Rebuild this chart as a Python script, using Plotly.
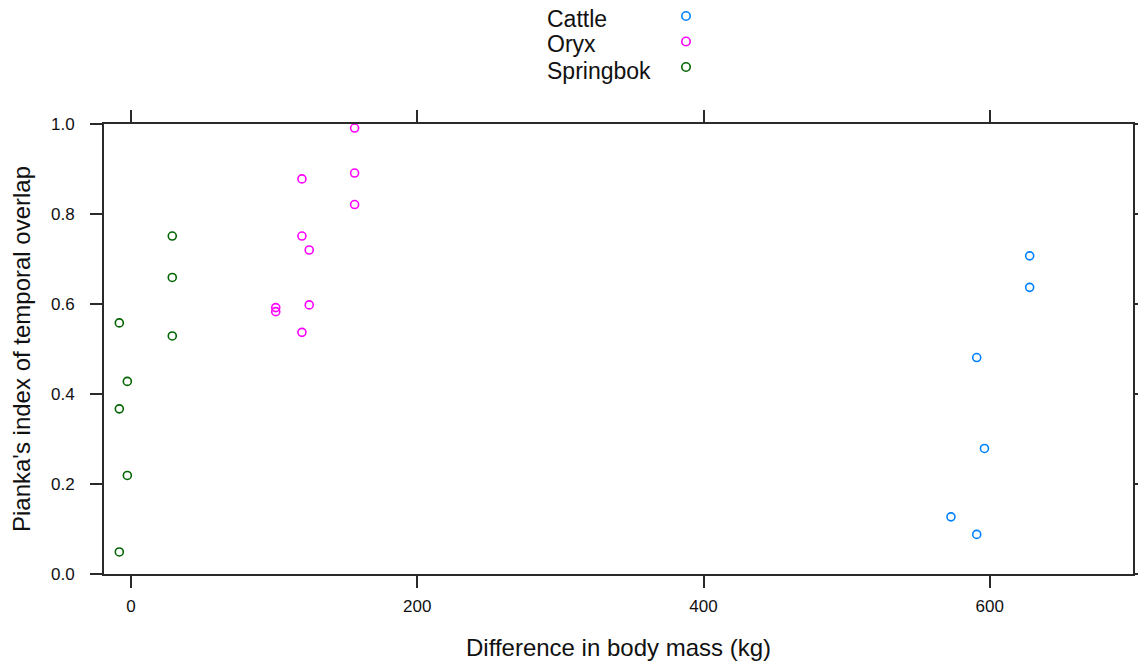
import plotly.graph_objects as go

# ---- data ----
species = ["Cattle", "Oryx", "Springbok"]
colors = ["#0080ff", "#ff00ff", "#006400"]

cattle_x = [627.9, 627.9, 590.9, 596.3, 572.9, 590.9]
cattle_y = [0.707, 0.637, 0.481, 0.279, 0.127, 0.088]

oryx_x = [101.1, 101.1, 119.4, 119.4, 124.5, 124.5, 119.4, 156.2, 156.2, 156.2]
oryx_y = [0.592, 0.583, 0.878, 0.751, 0.720, 0.598, 0.537, 0.991, 0.891, 0.821]

springbok_x = [-8.2, -2.6, -8.2, -2.6, -8.2, 28.8, 28.8, 28.8]
springbok_y = [0.558, 0.428, 0.367, 0.219, 0.049, 0.751, 0.659, 0.529]

x_ticks = [0, 200, 400, 600]
y_ticks = [0.0, 0.2, 0.4, 0.6, 0.8, 1.0]
y_tick_text = ["0.0", "0.2", "0.4", "0.6", "0.8", "1.0"]

xs = [cattle_x, oryx_x, springbok_x]
ys = [cattle_y, oryx_y, springbok_y]

W, H = 1138, 662
ML, MR, MT, MB = 104, 5, 124, 88
PW = W - ML - MR
PH = H - MT - MB

FONT = "Liberation Sans, Arial, sans-serif"
LINE_COL = "#2a2a2a"

fig = go.Figure()
for name, col, x, y in zip(species, colors, xs, ys):
    fig.add_trace(go.Scatter(
        x=x, y=y, mode="markers", name=name, showlegend=False,
        marker=dict(symbol="circle-open", size=8, color=col,
                    line=dict(color=col, width=1.6)),
        cliponaxis=False,
    ))

axis_common = dict(
    showline=True, linecolor=LINE_COL, linewidth=1.8, mirror="allticks",
    ticks="outside", ticklen=12, tickwidth=1.6, tickcolor=LINE_COL,
    showgrid=False, zeroline=False,
    tickfont=dict(family=FONT, size=17, color="#111111"),
    automargin=False,
)

fig.update_xaxes(
    range=[-18.9, 700.1], tickvals=x_ticks, ticktext=[str(v) for v in x_ticks],
    ticklabelstandoff=4,
    title=dict(text="Difference in body mass (kg)",
               font=dict(family=FONT, size=24, color="#111111"), standoff=24),
    **axis_common,
)
fig.update_yaxes(
    range=[0, 1], tickvals=y_ticks, ticktext=y_tick_text,
    ticklabelstandoff=12,
    title=dict(text="Pianka's index of temporal overlap",
               font=dict(family=FONT, size=24, color="#111111"), standoff=14),
    **axis_common,
)

# ---- key at top: labels left, symbols right (lattice style) ----
def px2paper_x(px):
    return (px - ML) / PW

def px2paper_y(py):
    return (H - MB - py) / PH

text_y = [18.5, 44.5, 70.5]
sym_y = [16, 41.5, 67]
for name, col, ty, sy in zip(species, colors, text_y, sym_y):
    fig.add_annotation(
        x=px2paper_x(545), y=px2paper_y(ty), xref="paper", yref="paper",
        text=name, showarrow=False, xanchor="left", yanchor="middle",
        font=dict(family=FONT, size=23, color="#111111"),
    )
    fig.add_shape(
        type="circle", xref="paper", yref="paper",
        xsizemode="pixel", ysizemode="pixel",
        xanchor=px2paper_x(686), yanchor=px2paper_y(sy),
        x0=-4.2, x1=4.2, y0=-4.2, y1=4.2,
        line=dict(color=col, width=1.6),
    )

fig.update_layout(
    width=W, height=H,
    margin=dict(l=ML, r=MR, t=MT, b=MB, pad=0),
    paper_bgcolor="white", plot_bgcolor="white",
    showlegend=False,
)

fig.write_html("out.html")
